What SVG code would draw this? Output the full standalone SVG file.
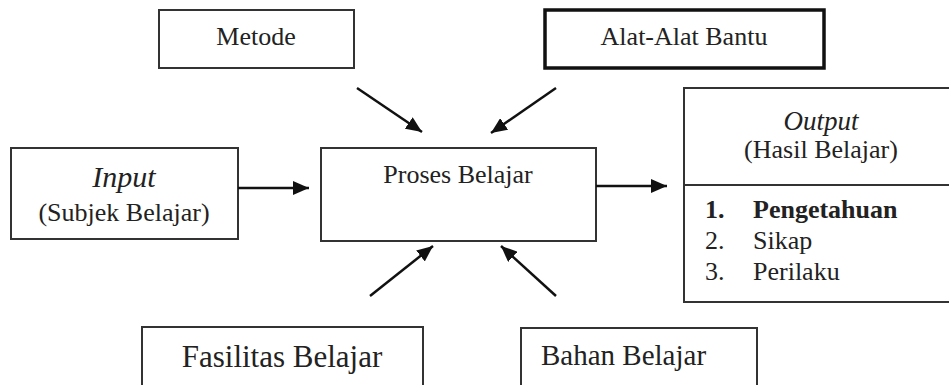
<svg xmlns="http://www.w3.org/2000/svg" width="949" height="385" viewBox="0 0 949 385">
<style>
  .box { fill: #fff; stroke: #333; stroke-width: 2; }
  .thick { fill: #fff; stroke: #111; stroke-width: 3.5; }
  .t { font-family: "Liberation Serif", "Times New Roman", serif; font-size: 26px; fill: #222; }
  .c { text-anchor: middle; }
  .i { font-style: italic; }
  .b { font-weight: bold; }
  .arrow { stroke: #111; stroke-width: 2.5; fill: none; marker-end: url(#ah); }
</style>
<defs>
  <marker id="ah" markerUnits="userSpaceOnUse" markerWidth="17" markerHeight="14" refX="16" refY="7" orient="auto">
    <path d="M0,0 L16,7 L0,14 z" fill="#111"/>
  </marker>
</defs>
<rect width="949" height="385" fill="#fff"/>
<g id="metode">
  <rect class="box" x="159" y="10" width="195" height="58"/>
  <text class="t c" x="256" y="45">Metode</text>
</g>
<g id="alat">
  <rect class="thick" x="545" y="10" width="279" height="58"/>
  <text class="t c" x="684" y="45">Alat-Alat Bantu</text>
</g>
<g id="input">
  <rect class="box" x="11" y="148" width="227" height="91"/>
  <text class="t c i" x="124" y="187" style="font-size:30px">Input</text>
  <text class="t c" x="124" y="221">(Subjek Belajar)</text>
</g>
<g id="proses">
  <rect class="box" x="321" y="148" width="275" height="93"/>
  <text class="t c" x="458" y="183">Proses Belajar</text>
</g>
<g id="output">
  <rect class="box" x="684" y="88" width="280" height="214"/>
  <line x1="684" y1="185" x2="964" y2="185" stroke="#333" stroke-width="2"/>
  <text class="t c i" x="821" y="130" style="font-size:27px">Output</text>
  <text class="t c" x="821" y="158">(Hasil Belajar)</text>
  <text class="t b" x="705" y="218">1.</text>
  <text class="t b" x="753" y="218">Pengetahuan</text>
  <text class="t" x="705" y="249">2.</text>
  <text class="t" x="753" y="249">Sikap</text>
  <text class="t" x="705" y="280">3.</text>
  <text class="t" x="753" y="280">Perilaku</text>
</g>
<g id="fasilitas">
  <rect class="box" x="142" y="327" width="281" height="70"/>
  <text class="t c" x="282" y="367" style="font-size:31px">Fasilitas Belajar</text>
</g>
<g id="bahan">
  <rect class="box" x="521" y="328" width="236" height="70"/>
  <text class="t" x="541" y="365" style="font-size:29px">Bahan Belajar</text>
</g>
<g id="connectors">
  <line class="arrow" x1="238" y1="188" x2="309" y2="188"/>
  <line class="arrow" x1="596" y1="186" x2="667" y2="186"/>
  <line class="arrow" x1="357" y1="88" x2="422" y2="132"/>
  <line class="arrow" x1="556" y1="88" x2="491" y2="133"/>
  <line class="arrow" x1="370" y1="296" x2="433" y2="246"/>
  <line class="arrow" x1="556" y1="296" x2="501" y2="246"/>
</g>
</svg>
